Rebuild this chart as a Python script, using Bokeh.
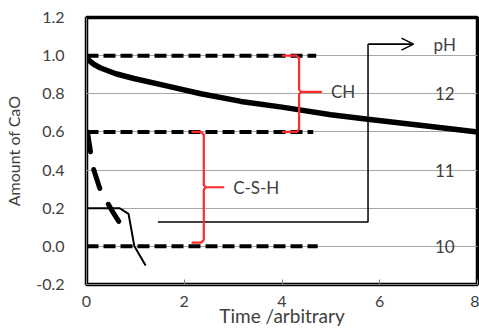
from bokeh.plotting import figure
from bokeh.embed import file_html
from bokeh.resources import INLINE
from bokeh.models import Arrow, OpenHead, NumeralTickFormatter, FixedTicker, Range1d
from bokeh.core.properties import value

# ---- data ----
curve_t = [0, 0.05, 0.15, 0.29, 0.6, 0.97, 1.66, 2.34, 3.16, 4.0, 5.0, 5.8, 7.0, 8.0]
curve_cao = [1.0, 0.975, 0.955, 0.935, 0.905, 0.88, 0.84, 0.80, 0.76, 0.73, 0.69, 0.665, 0.63, 0.60]

level_y = [1.0, 0.6, 0.0]
level_end = [4.7, 4.64, 4.73]

csh_t = [0.02, 0.08, 0.15, 0.29, 0.55, 0.74]
csh_cao = [0.6, 0.5, 0.4, 0.29, 0.175, 0.10]

thin_t = [0, 0.68, 0.86, 0.98, 1.21]
thin_cao = [0.2, 0.2, 0.17, 0.0, -0.1]

ph_path_t = [1.46, 5.76, 5.76, 6.69]
ph_path_y = [0.128, 0.128, 1.06, 1.06]

ph_labels = ["pH", "12", "11", "10"]
ph_label_y = [1.06, 0.8, 0.4, 0.0]
ph_label_x = 7.33

ch_brace = dict(x=4.35, top=1.0, bottom=0.6, mid=0.81, hook=4.0, tip=4.8)
csh_brace = dict(x=2.4, top=0.6, bottom=0.02, mid=0.31, hook=2.15, tip=2.8)
ch_text = ("CH", 5.0, 0.81)
csh_text = ("C-S-H", 3.0, 0.31)

x_ticks = [0, 2, 4, 6, 8]
y_ticks = [-0.2, 0.0, 0.2, 0.4, 0.6, 0.8, 1.0, 1.2]
x_title = "Time /arbitrary"
y_title = "Amount of CaO"

FONT = "Lato"
TXT = "#404040"

p = figure(width=479, height=329, output_backend="svg", toolbar_location=None,
           x_range=Range1d(0, 8), y_range=Range1d(-0.2, 1.2),
           min_border_left=86, min_border_right=2, min_border_top=17, min_border_bottom=44)
p.background_fill_color = "white"
p.border_fill_color = "white"
p.outline_line_color = "black"
p.outline_line_width = 3.5

p.xgrid.visible = False
p.ygrid.grid_line_color = "#a6a6a6"
p.ygrid.grid_line_width = 1
p.ygrid.ticker = FixedTicker(ticks=y_ticks)

p.xaxis.ticker = FixedTicker(ticks=x_ticks)
p.yaxis.ticker = FixedTicker(ticks=y_ticks)
p.yaxis.formatter = NumeralTickFormatter(format="0.0")
for ax in (p.xaxis, p.yaxis):
    ax.axis_line_color = "#808080"
    ax.major_label_text_font = FONT
    ax.major_label_text_font_size = "16px"
    ax.major_label_text_color = TXT
    ax.axis_label_text_font = FONT
    ax.axis_label_text_font_style = "normal"
    ax.axis_label_text_color = TXT
    ax.minor_tick_line_color = None
p.yaxis.axis_label_text_font_size = "16px"
p.xaxis.axis_label_text_font_size = "19px"
p.xaxis.major_tick_in = 5
p.xaxis.major_tick_out = 0
p.xaxis.major_tick_line_color = "#808080"
p.yaxis.major_tick_in = 0
p.yaxis.major_tick_out = 0
p.yaxis.major_label_standoff = 22
p.xaxis.major_label_standoff = 11
p.yaxis.axis_label = y_title
p.yaxis.axis_label_standoff = 10
p.xaxis.axis_label = x_title
p.xaxis.axis_label_standoff = -6

# dashed levels
for y, e in zip(level_y, level_end):
    p.line([0, e], [y, y], line_color="black", line_width=4, line_dash="12 5")

# main curve
p.line(curve_t, curve_cao, line_color="black", line_width=5.5, line_join="round")

# C-S-H decalcification dashed
p.line(csh_t, csh_cao, line_color="black", line_width=5, line_dash="20 18", line_cap="round")

# thin line
p.line(thin_t, thin_cao, line_color="black", line_width=2)

# pH path + arrow
p.line(ph_path_t, ph_path_y, line_color="black", line_width=1.5)
p.add_layout(Arrow(end=OpenHead(size=12, line_width=1.5, line_color="black"),
                   x_start=ph_path_t[-2], y_start=ph_path_y[-2],
                   x_end=ph_path_t[-1], y_end=ph_path_y[-1],
                   line_color="black", line_width=1.5))

def brace(b):
    x, top, bot, mid, hook, tip = b["x"], b["top"], b["bottom"], b["mid"], b["hook"], b["tip"]
    xs = [hook, x - 0.05, x, x, x + 0.04, tip, x + 0.04, x, x, x - 0.05, hook]
    ys = [top, top, top - 0.015, mid + 0.012, mid, mid, mid, mid - 0.012, bot + 0.015, bot, bot]
    p.line(xs, ys, line_color="#ff2a2a", line_width=2.2, line_join="round")

brace(ch_brace)
brace(csh_brace)

for txt, x, y in (ch_text, csh_text):
    p.text([x], [y], text=[txt], text_font=value(FONT), text_font_size="17px",
           text_color=TXT, text_baseline="middle", text_align="left")

p.text([ph_label_x] * len(ph_labels), ph_label_y, text=ph_labels, text_font=value(FONT),
       text_font_size="17px", text_color=TXT, text_baseline="middle", text_align="center")

open("out.html", "w").write(file_html(p, INLINE))
